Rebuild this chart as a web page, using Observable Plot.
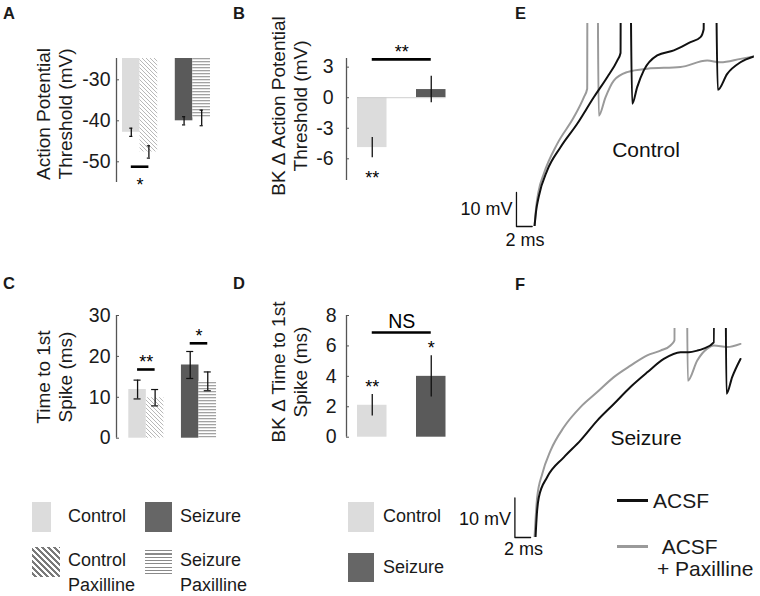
<!DOCTYPE html>
<html><head><meta charset="utf-8">
<script src="https://cdn.jsdelivr.net/npm/d3@7"></script>
<script src="https://cdn.jsdelivr.net/npm/@observablehq/plot@0.6"></script>
<style>
body{margin:0;background:#fff;}
#fig{position:relative;width:760px;height:596px;overflow:hidden;font-family:"Liberation Sans",Arial,Helvetica,sans-serif;color:#1a1a1a;background:#fff;}
.abs{position:absolute;white-space:nowrap;line-height:1;}
.letter{font-weight:bold;font-size:16.5px;}
.title{position:absolute;white-space:nowrap;font-size:19px;line-height:22px;text-align:center;transform:translate(-50%,-50%) rotate(-90deg);}
.lg{font-size:18px;}
.sw{position:absolute;}
</style></head><body><div id="fig"></div>
<script>
// ---------------- data ----------------
const fourGroups = ["Control", "Control Paxilline", "Seizure", "Seizure Paxilline"];
const twoGroups = ["Control", "Seizure"];
const apThreshold = [-42.8, -47.6, -40.0, -39.3];
const apThresholdSem = [1.0, 1.5, 1.0, 1.9];
const firstSpikeTime = [11.9, 9.9, 17.9, 13.9];
const firstSpikeTimeSem = [2.3, 2.0, 3.3, 2.3];
const bkDeltaThreshold = [-4.9, 0.8];
const bkDeltaThresholdSem = [1.0, 1.3];
const bkDeltaSpikeTime = [2.1, 4.0];
const bkDeltaSpikeTimeSem = [0.7, 1.35];
const ticksA = [-50, -40, -30];
const ticksB = [-6, -3, 0, 3];
const ticksC = [0, 10, 20, 30];
const ticksD = [0, 2, 4, 6, 8];
const sigA = [{from: "Control", to: "Control Paxilline", level: -51.2, label: "*", labelLevel: -55.7}];
const sigB = [{from: "Control", to: "Seizure", level: 3.76, label: "**", labelLevel: 4.5}];
const starsB = [{at: "Control", label: "**", level: -7.88}];
const sigC = [{from: "Control", to: "Control Paxilline", level: 16.8, label: "**", labelLevel: 18.6},
              {from: "Seizure", to: "Seizure Paxilline", level: 23.2, label: "*", labelLevel: 25.0}];
const sigD = [{from: "Control", to: "Seizure", level: 6.88, label: "NS", labelLevel: 7.56}];
const starsD = [{at: "Control", label: "**", level: 3.31}, {at: "Seizure", label: "*", level: 5.85}];

// voltage traces: [time (ms), membrane potential relative to start (mV)]
const traceControlAcsf = [[0,0],[0.2,4.5],[0.55,8.9],[1.62,16.5],[3.31,23.3],[5.44,30.2],[7.55,38.0],[9.26,43.9],[10.54,48.8],[10.96,51],[11.05,200],[11.8,200],[12.45,36.1],[13.08,41.0],[13.92,45.9],[15.63,50.3],[17.75,51.8],[19.87,54.2],[21.15,55.7],[21.55,58],[21.66,200],[22.64,200],[23.35,40.2],[24.55,44.9],[26.24,48.3],[27.94,50.0]];
const traceControlPax = [[0,0],[0.2,5.5],[0.5,10.2],[1.18,15.5],[2.89,24.3],[5.0,32.1],[6.28,38.0],[6.71,40.5],[6.79,200],[7.77,200],[8.19,32.6],[9.04,38.0],[10.1,42.9],[11.8,45.4],[14.36,46.4],[18.6,46.9],[22.0,48.8],[23.7,48.3],[26.24,49.3],[27.94,50.0]];
const traceSeizureAcsf = [[0.13,0],[0.3,6],[0.55,10.2],[1.62,15.3],[3.73,20.3],[5.86,24.6],[7.99,29.6],[10.1,33.8],[12.23,38.1],[14.36,41.8],[16.47,45.2],[18.6,46.9],[19.66,46.9],[20.73,47.3],[21.53,47.8],[22.84,49.4],[23.06,200],[24.04,200],[24.46,36.4],[25.18,40.6],[26.24,45.2]];
const traceSeizurePax = [[0,0],[0.34,10.2],[0.98,16.1],[2.04,22.0],[3.73,27.9],[5.86,33.0],[7.99,36.8],[10.1,40.6],[12.23,43.5],[14.36,46.1],[16.05,47.3],[17.32,48.6],[17.83,49.9],[17.92,200],[19.1,200],[19.53,39.7],[20.73,44.8],[22.0,47.8],[22.84,48.6],[24.55,48.2],[26.24,49.0]];
const scaleBarMs = 2, scaleBarMv = 10;

// ---------------- drawing ----------------
const fig = document.getElementById("fig");
const FONT = "'Liberation Sans', Arial, Helvetica, sans-serif";
const fills = {"Control": "#dcdcdc", "Control Paxilline": "url(#hatchDiag)", "Seizure": "#5a5a5a", "Seizure Paxilline": "url(#hatchHoriz)"};
const fmt = d => (d < 0 ? "-" + (-d) : String(d));
const baseStyle = {background: "transparent", fontFamily: FONT, fontSize: "19px", color: "#1a1a1a", overflow: "visible"};

// pattern defs (document-wide)
const defsSvg = document.createElementNS("http://www.w3.org/2000/svg", "svg");
defsSvg.setAttribute("width", 0); defsSvg.setAttribute("height", 0);
defsSvg.style.position = "absolute";
defsSvg.innerHTML = `<defs>
<pattern id="hatchDiag" patternUnits="userSpaceOnUse" width="4" height="4">
<rect width="4" height="4" fill="#fff"/>
<path d="M-1,-1L5,5M-1,3L1,5M3,-1L5,1" stroke="#b0b0b0" stroke-width="0.9"/></pattern>
<pattern id="hatchHoriz" patternUnits="userSpaceOnUse" width="4" height="3">
<rect width="4" height="3" fill="#fff"/>
<rect y="1" width="4" height="1.3" fill="#a2a2a2"/></pattern></defs>`;
fig.appendChild(defsSvg);

function place(node, left, top) {
  node.style.position = "absolute"; node.style.left = left + "px"; node.style.top = top + "px";
  fig.appendChild(node);
}

function barPanel(o) {
  const slotOf = Object.fromEntries(o.rows.map(d => [d.g, d.s]));
  const xmin = o.xDomain[0];
  const tickLen = 3 / o.pxPerSlot;
  const marks = [
    Plot.rectY(o.rows, {x1: "s", x2: d => d.s + 1, y1: () => o.base, y2: "v", fill: d => fills[d.g]})
  ];
  if (o.zero) marks.push(Plot.ruleY([0], {x1: () => o.rows[0].s, x2: () => o.rows[o.rows.length - 1].s + 1, stroke: "#cfcfcf", strokeWidth: 1}));
  marks.push(Plot.ruleX(o.rows, {x: d => d.s + 0.5, y1: d => d.v - d.e, y2: d => d.v + d.e, stroke: "#111", strokeWidth: 1.3}));
  if (o.cap) {
    const capRows = o.rows.flatMap(d => [{s: d.s, y: d.v - d.e}, {s: d.s, y: d.v + d.e}]);
    marks.push(Plot.ruleY(capRows, {y: "y", x1: d => d.s + 0.5 - o.cap, x2: d => d.s + 0.5 + o.cap, stroke: "#111", strokeWidth: 1.2}));
  }
  marks.push(
    Plot.ruleX([xmin], {stroke: "#555", strokeWidth: 1.3}),
    Plot.ruleY(o.ticks, {x1: () => xmin, x2: () => xmin + tickLen, stroke: "#555", strokeWidth: 1}),
    Plot.axisY({ticks: o.ticks, tickSize: 0, tickPadding: o.tickPadding, tickFormat: fmt, label: null, fontSize: 19.5}),
    Plot.ruleY(o.sig, {y: "level", x1: d => slotOf[d.from] + 0.5, x2: d => slotOf[d.to] + 0.5, stroke: "#000", strokeWidth: 2.6}),
    Plot.text(o.sig, {x: d => (slotOf[d.from] + slotOf[d.to]) / 2 + 0.5, y: "labelLevel", text: "label", fontSize: d => d.label === "NS" ? 19.5 : 18, fill: "#000"}),
    Plot.text(o.stars || [], {x: d => slotOf[d.at] + 0.5, y: "level", text: "label", fontSize: 18, fill: "#000"})
  );
  return Plot.plot({
    width: o.width, height: o.height,
    marginLeft: o.ml, marginRight: o.mr, marginTop: o.mt, marginBottom: o.mb,
    x: {domain: o.xDomain, axis: null},
    y: {domain: o.yDomain, label: null},
    color: {type: "identity"},
    style: baseStyle,
    marks
  });
}

const rowsA = fourGroups.map((g, i) => ({g, s: i + (i > 1 ? 1 : 0), v: apThreshold[i], e: apThresholdSem[i]}));
const rowsC = fourGroups.map((g, i) => ({g, s: i + (i > 1 ? 1 : 0), v: firstSpikeTime[i], e: firstSpikeTimeSem[i]}));
const rowsB = twoGroups.map((g, i) => ({g, s: i * 2, v: bkDeltaThreshold[i], e: bkDeltaThresholdSem[i]}));
const rowsD = twoGroups.map((g, i) => ({g, s: i * 2, v: bkDeltaSpikeTime[i], e: bkDeltaSpikeTimeSem[i]}));

place(barPanel({rows: rowsA, base: -24.8, yDomain: [-55.05, -24.8], ticks: ticksA, xDomain: [-0.341, 5.2], pxPerSlot: 17.6,
  width: 240, height: 200, ml: 116, mr: 26.5, mt: 58, mb: 18, tickPadding: 6, cap: 0.09, sig: sigA}), 0, 0);
place(barPanel({rows: rowsB, base: 0, zero: true, yDomain: [-8.13, 3.85], ticks: ticksB, xDomain: [-0.373, 3.4], pxPerSlot: 29.5,
  width: 290, height: 200, ml: 156, mr: 22.7, mt: 58, mb: 20, tickPadding: 13, sig: sigB, stars: starsB}), 190, 0);
place(barPanel({rows: rowsC, base: 0, yDomain: [0, 30], ticks: ticksC, xDomain: [-0.701, 5.3], pxPerSlot: 17.54,
  width: 240, height: 190, ml: 116, mr: 18.7, mt: 45, mb: 22.3, tickPadding: 6, cap: 0.2, sig: sigC}), 0, 270);
place(barPanel({rows: rowsD, base: 0, yDomain: [0, 8], ticks: ticksD, xDomain: [-0.373, 3.4], pxPerSlot: 29.5,
  width: 290, height: 190, ml: 156, mr: 22.7, mt: 45, mb: 23.3, tickPadding: 10, sig: sigD, stars: starsD}), 190, 270);

function tracePanel(o) {
  const bar = [[o.barT, scaleBarMv], [o.barT, 0], [o.barT + scaleBarMs, 0]];
  return Plot.plot({
    width: 320, height: o.height, marginLeft: 74.4, marginRight: 6.2, marginTop: o.mt, marginBottom: o.mb,
    x: {domain: [-2.5, 28], axis: null}, y: {domain: [0, o.vmax], axis: null},
    style: baseStyle,
    marks: [
      Plot.line(o.pax, {x: d => d[0], y: d => d[1], stroke: "#9a9a9a", strokeWidth: 2, curve: "monotone-x", clip: true}),
      Plot.line(o.acsf, {x: d => d[0], y: d => d[1], stroke: "#111", strokeWidth: 2, curve: "monotone-x", clip: true}),
      Plot.line(bar, {x: d => d[0], y: d => d[1], stroke: "#111", strokeWidth: 1.3}),
      Plot.text([`${scaleBarMv} mV`], {x: () => o.barT - 0.5, y: () => o.mvLabel, text: d => d, textAnchor: "end", fontSize: 18, fill: "#111"}),
      Plot.text([`${scaleBarMs} ms`], {x: () => o.barT + scaleBarMs / 2 + 0.1, y: () => o.msLabel, text: d => d, fontSize: 18, fill: "#111"}),
      Plot.text([o.name], {x: () => 14.2, y: () => o.nameLevel, text: d => d, fontSize: 21, fill: "#111"})
    ]
  });
}
place(tracePanel({acsf: traceControlAcsf, pax: traceControlPax, height: 250, mt: 23, mb: 24, vmax: 59.7,
  barT: -2.3, mvLabel: 5, msLabel: -4.1, name: "Control", nameLevel: 22.4}), 440, 0);
place(tracePanel({acsf: traceSeizureAcsf, pax: traceSeizurePax, height: 316, mt: 48, mb: 59, vmax: 52.9,
  barT: -2.5, mvLabel: 4.5, msLabel: -2.9, name: "Seizure", nameLevel: 25.1}), 440, 280);

// ---------------- letters, titles, legends ----------------
function text(str, cls, left, top, extra) {
  const d = document.createElement("div");
  d.className = cls; d.textContent = str;
  d.style.left = left + "px"; d.style.top = top + "px";
  if (extra) Object.assign(d.style, extra);
  fig.appendChild(d);
  return d;
}
[["A", 3, 5], ["B", 233, 5], ["C", 3, 275], ["D", 233, 275], ["E", 515, 5], ["F", 515, 276]]
  .forEach(([t, x, y]) => text(t, "abs letter", x, y));

function title(lines, cx, cy) {
  const d = document.createElement("div");
  d.className = "title";
  d.innerHTML = lines.map(l => `<div>${l}</div>`).join("");
  d.style.left = cx + "px"; d.style.top = cy + "px";
  fig.appendChild(d);
}
title(["Action Potential", "Threshold (mV)"], 55, 114);
title(["BK \u0394 Action Potential", "Threshold (mV)"], 290, 106);
title(["Time to 1st", "Spike (ms)"], 55, 377);
title(["BK \u0394 Time to 1st", "Spike (ms)"], 290, 372);

function swatch(left, top, w, h, bg) {
  const d = document.createElement("div");
  d.className = "sw";
  Object.assign(d.style, {left: left + "px", top: top + "px", width: w + "px", height: h + "px", background: bg});
  fig.appendChild(d);
}
const lgTop = c => c - 8.8;
swatch(32, 502, 19, 30, "#dcdcdc");
text("Control", "abs lg", 68, lgTop(516));
swatch(145, 502, 27, 30, "#666");
text("Seizure", "abs lg", 180, lgTop(516));
swatch(32, 547, 28, 30, "repeating-linear-gradient(45deg, #fff 0 2px, #7a7a7a 2px 4.2px)");
text("Control", "abs lg", 68, lgTop(560));
text("Paxilline", "abs lg", 68, lgTop(585));
swatch(145, 548, 27, 29, "repeating-linear-gradient(180deg, #fff 0 2.2px, #8a8a8a 2.2px 3.3px)");
text("Seizure", "abs lg", 180, lgTop(560));
text("Paxilline", "abs lg", 180, lgTop(585));
swatch(348, 502, 26, 30, "#dcdcdc");
text("Control", "abs lg", 383, lgTop(516));
swatch(348, 553, 26, 29, "#666");
text("Seizure", "abs lg", 383, lgTop(567));

// trace legend
swatch(617, 498.5, 31, 3, "#111");
text("ACSF", "abs", 653, 500 - 10.3, {fontSize: "21px"});
swatch(617, 545.2, 31, 3, "#9a9a9a");
text("ACSF", "abs", 661.7, 546.7 - 10.3, {fontSize: "21px"});
text("+ Paxilline", "abs", 657, 568.3 - 10.3, {fontSize: "21px"});
</script></body></html>
